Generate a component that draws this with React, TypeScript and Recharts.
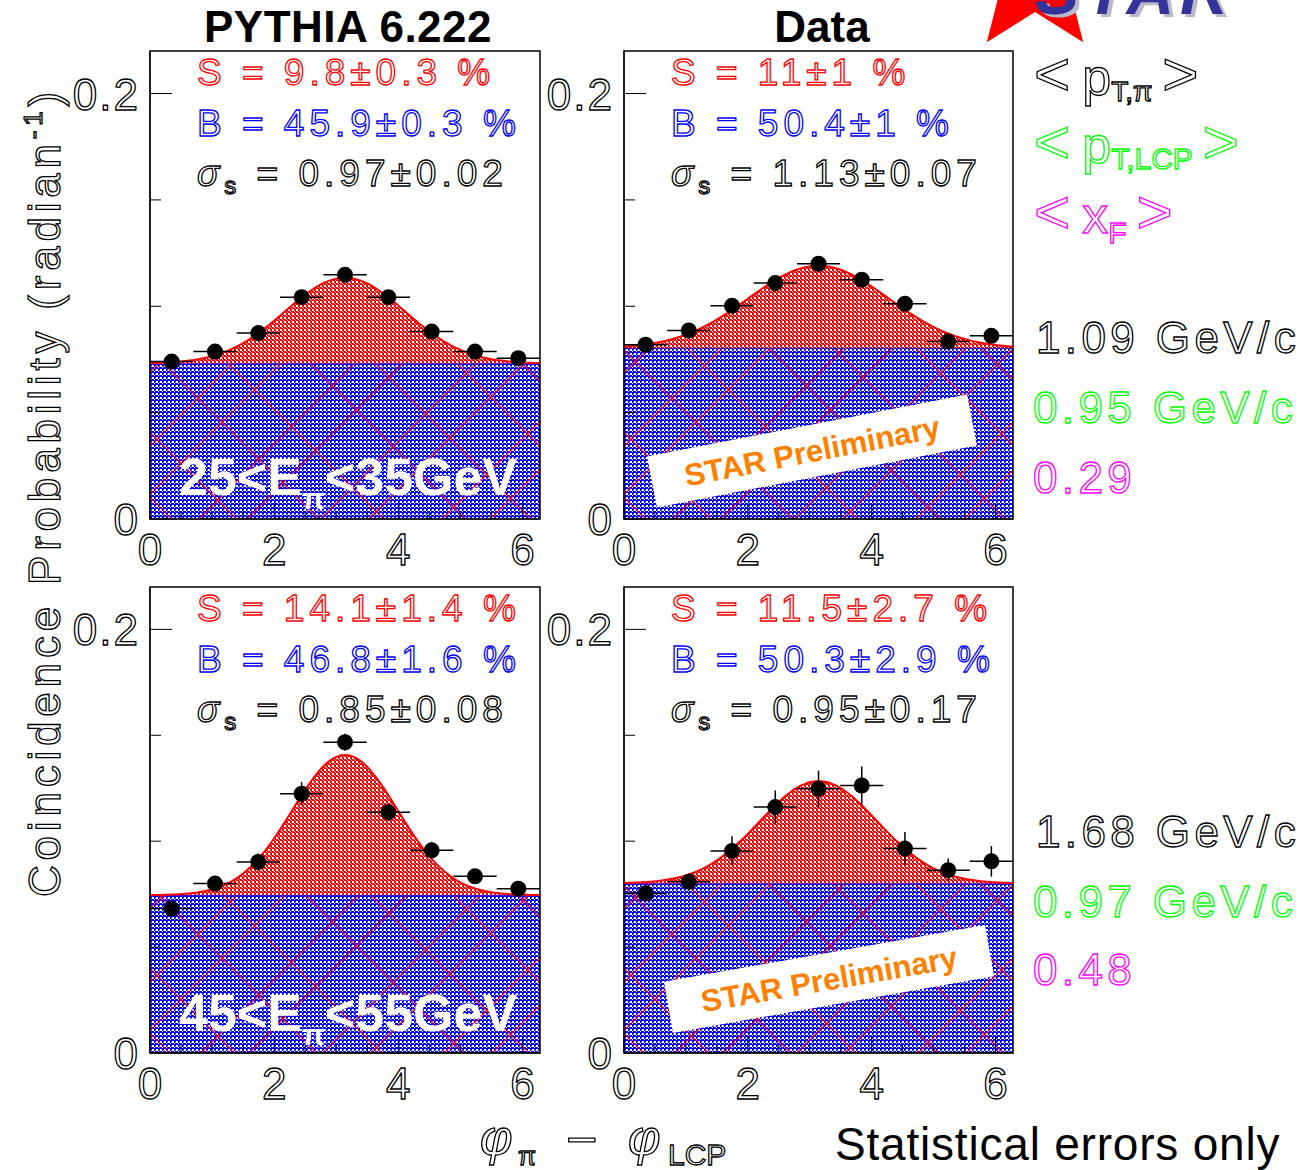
import React from 'react';
import { ComposedChart, Area, Line, Scatter, ErrorBar, XAxis, YAxis, ReferenceArea } from 'recharts';

const TWO_PI = 2 * Math.PI;

// nine azimuthal bins over 0..2pi
const binCenters = [0.349, 1.047, 1.745, 2.443, 3.142, 3.84, 4.538, 5.236, 5.934];
const binHalfWidth = 0.349;

// coincidence probability per bin: PYTHIA / data, low and high pion energy
const pythiaLowY = [0.074, 0.0787, 0.0874, 0.1043, 0.1148, 0.1043, 0.0881, 0.0787, 0.0756];
const pythiaLowErr = [0.0015, 0.0015, 0.0015, 0.0015, 0.0015, 0.0015, 0.0015, 0.0015, 0.0015];
const dataLowY = [0.0819, 0.0886, 0.1002, 0.1109, 0.12, 0.1125, 0.1012, 0.0834, 0.0861];
const dataLowErr = [0.0025, 0.0025, 0.0025, 0.0025, 0.0025, 0.0025, 0.0025, 0.0025, 0.0025];
const pythiaHighY = [0.0682, 0.08, 0.0902, 0.1224, 0.1467, 0.1137, 0.0957, 0.0834, 0.0776];
const pythiaHighErr = [0.003, 0.003, 0.004, 0.0055, 0.004, 0.004, 0.004, 0.003, 0.003];
const dataHighY = [0.0753, 0.0808, 0.0954, 0.1161, 0.1247, 0.1263, 0.0965, 0.0863, 0.0905];
const dataHighErr = [0.003, 0.004, 0.0069, 0.0078, 0.0086, 0.009, 0.0078, 0.0055, 0.0072];

// gaussian + flat background fit results
const signalPct = [9.8, 11, 14.1, 11.5];
const signalErr = [0.3, 1, 1.4, 2.7];
const backgroundPct = [45.9, 50.4, 46.8, 50.3];
const backgroundErr = [0.3, 1, 1.6, 2.9];
const sigmaS = [0.97, 1.13, 0.85, 0.95];
const sigmaErr = [0.02, 0.07, 0.08, 0.17];

const xTicks = [0, 0.5, 1, 1.5, 2, 2.5, 3, 3.5, 4, 4.5, 5, 5.5, 6];
const yTicks = [0, 0.05, 0.1, 0.15, 0.2];

const columnTitles = ['PYTHIA 6.222', 'Data'];
const energyBins = [['25', '35'], ['45', '55']];
const meanPtPi = ['1.09 GeV/c', '1.68 GeV/c'];
const meanPtLcp = ['0.95 GeV/c', '0.97 GeV/c'];
const meanXf = ['0.29', '0.48'];

const pointY = [pythiaLowY, dataLowY, pythiaHighY, dataHighY];
const pointErr = [pythiaLowErr, dataLowErr, pythiaHighErr, dataHighErr];

// plot-area boxes in page pixels
const boxes = [
  { left: 150, top: 51, width: 390, height: 468 },
  { left: 624, top: 51, width: 389, height: 468 },
  { left: 150, top: 587, width: 390, height: 466 },
  { left: 624, top: 587, width: 389, height: 466 },
];
const ML = 90;
const MT = 2;
const MR = 4;
const MB = 60;

const FONT = '"Liberation Sans", Arial, sans-serif';
const hollow = (c: string) => ({ fill: '#fff', stroke: c, strokeWidth: 1.3 });

const curveX = Array.from({ length: 121 }, (_, i) => (i * TWO_PI) / 120);
const fitCurve = (k: number) => {
  const b = backgroundPct[k] / 100 / TWO_PI;
  const a = signalPct[k] / 100 / (sigmaS[k] * Math.sqrt(TWO_PI));
  return curveX.map((x) => ({
    x,
    b,
    y: b + a * Math.exp(-((x - Math.PI) ** 2) / (2 * sigmaS[k] ** 2)),
  }));
};

const XTick = (p: any) => {
  const v = p.payload.value;
  const len = v % 2 === 0 ? 16 : 8;
  return (
    <g>
      <line x1={p.x} x2={p.x} y1={p.y} y2={p.y - len} stroke="#000" />
      {v % 2 === 0 && (
        <text x={p.x} y={p.y + 46} textAnchor="middle" fontSize={44} fontFamily={FONT} {...hollow('#000')}>
          {v}
        </text>
      )}
    </g>
  );
};

const YTick = (p: any) => {
  const v = p.payload.value;
  const major = v === 0 || v === 0.2;
  return (
    <g>
      <line x1={p.x} x2={p.x + (major ? 22 : 11)} y1={p.y} y2={p.y} stroke="#000" />
      {major && (
        <text x={p.x - 10} y={p.y + 16} textAnchor="end" fontSize={44} letterSpacing={2} fontFamily={FONT} {...hollow('#000')}>
          {v === 0 ? '0' : '0.2'}
        </text>
      )}
    </g>
  );
};

const dot = (p: any) => <circle cx={p.cx} cy={p.cy} r={8} fill="#000" />;

const Panel = ({ k }: { k: number }) => {
  const box = boxes[k];
  const pts = binCenters.map((x, i) => ({ x, y: pointY[k][i], ex: binHalfWidth, ey: pointErr[k][i] }));
  const fit = fitCurve(k);
  return (
    <div style={{ position: 'absolute', left: box.left - ML, top: box.top - MT }}>
      <ComposedChart
        width={ML + box.width + MR}
        height={MT + box.height + MB}
        margin={{ top: MT, right: MR, left: 0, bottom: 0 }}
      >
        <XAxis
          dataKey="x"
          type="number"
          domain={[0, TWO_PI]}
          ticks={xTicks}
          interval={0}
          allowDataOverflow
          height={MB}
          tickSize={0}
          tickMargin={0}
          tick={(p: any) => <XTick {...p} />}
          stroke="#000"
        />
        <YAxis
          type="number"
          domain={[0, 0.22]}
          ticks={yTicks}
          interval={0}
          allowDataOverflow
          width={ML}
          tickSize={0}
          tickMargin={0}
          tick={(p: any) => <YTick {...p} />}
          stroke="#000"
        />
        <Area data={fit} dataKey="b" type="linear" fill="url(#bgFill)" fillOpacity={1} stroke="#0000ff" strokeWidth={1.5} isAnimationActive={false} />
        <Area data={fit} dataKey={(d: any) => [d.b, d.y]} type="monotone" fill="url(#sigFill)" fillOpacity={1} stroke="none" isAnimationActive={false} />
        <Line data={fit} dataKey="y" type="monotone" stroke="#ff0000" strokeWidth={2} dot={false} isAnimationActive={false} />
        <Scatter data={pts} dataKey="y" shape={dot} isAnimationActive={false}>
          <ErrorBar dataKey="ex" direction="x" width={0} stroke="#000" strokeWidth={1.5} />
          <ErrorBar dataKey="ey" direction="y" width={0} stroke="#000" strokeWidth={1.5} />
        </Scatter>
        <ReferenceArea x1={0} x2={TWO_PI} y1={0} y2={0.22} fill="none" stroke="#000" strokeWidth={1.5} ifOverflow="visible" />
      </ComposedChart>
    </div>
  );
};

const starPoints = () => {
  const cx = 1035;
  const cy = -24;
  const pts: string[] = [];
  for (let i = 0; i < 10; i++) {
    const ang = -Math.PI / 2 + (i * Math.PI) / 5;
    const r = i % 2 === 0 ? 82 : 36;
    pts.push(`${cx + r * Math.cos(ang)},${cy + r * Math.sin(ang)}`);
  }
  return pts.join(' ');
};

const Overlay = () => (
  <svg width={1303} height={1170} style={{ position: 'absolute', left: 0, top: 0, pointerEvents: 'none' }} fontFamily={FONT}>
    {/* logo */}
    <polygon points={starPoints()} fill="#ff0000" />
    <text x={1039} y={17} fontSize={66} fontWeight="bold" fontStyle="italic" letterSpacing={6} fill="#b8b8c8">STAR</text>
    <text x={1035} y={14} fontSize={66} fontWeight="bold" fontStyle="italic" letterSpacing={6} fill="#333399">STAR</text>

    {/* column titles */}
    <text x={348} y={42} textAnchor="middle" fontSize={44} fontWeight="bold" letterSpacing={0.5} fill="#000">{columnTitles[0]}</text>
    <text x={822} y={42} textAnchor="middle" fontSize={44} fontWeight="bold" fill="#000">{columnTitles[1]}</text>

    {/* fit results */}
    {boxes.map((b, k) => (
      <g key={k} fontSize={37} letterSpacing={5}>
        <text x={b.left + 47} y={b.top + 34} {...hollow('#ff0000')}>
          {`S = ${signalPct[k]}±${signalErr[k]} %`}
        </text>
        <text x={b.left + 47} y={b.top + 85} {...hollow('#0000ff')}>
          {`B = ${backgroundPct[k]}±${backgroundErr[k]} %`}
        </text>
        <text x={b.left + 47} y={b.top + 135} {...hollow('#000')}>
          <tspan fontStyle="italic">σ</tspan>
          <tspan fontSize={24} dy={8}>s</tspan>
          <tspan dy={-8}>{` = ${sigmaS[k].toFixed(2)}±${sigmaErr[k].toFixed(2)}`}</tspan>
        </text>
      </g>
    ))}

    {/* energy bins */}
    {[0, 2].map((k, j) => (
      <text key={k} x={boxes[k].left + 29} y={boxes[k].top + 444} fontSize={52} fontWeight="bold" fill="#fff">
        {`${energyBins[j][0]}<E`}
        <tspan fontSize={30} dy={14}>π</tspan>
        <tspan dy={-14}>{`<${energyBins[j][1]}GeV`}</tspan>
      </text>
    ))}

    {/* preliminary stamps */}
    {[
      { cx: 812, cy: 451, a: -11 },
      { cx: 829, cy: 979, a: -10 },
    ].map((s, i) => (
      <g key={i} transform={`translate(${s.cx},${s.cy}) rotate(${s.a})`}>
        <rect x={-163} y={-26} width={326} height={52} fill="#fff" />
        <text x={0} y={11} textAnchor="middle" fontSize={31} fontWeight="bold" fill="#ff8000">STAR Preliminary</text>
      </g>
    ))}

    {/* legend of mean values */}
    <g fontSize={52}>
      <text x={1034} y={95} {...hollow('#000')}>
        <tspan fontSize={62}>{'<'}</tspan>
        <tspan dx={12}>p</tspan>
        <tspan fontSize={28} dy={6}>T,π</tspan>
        <tspan fontSize={62} dx={10} dy={-6}>{'>'}</tspan>
      </text>
      <text x={1034} y={163} {...hollow('#00ff00')}>
        <tspan fontSize={62}>{'<'}</tspan>
        <tspan dx={12}>p</tspan>
        <tspan fontSize={30} dy={6}>T,LCP</tspan>
        <tspan fontSize={62} dx={10} dy={-6}>{'>'}</tspan>
      </text>
      <text x={1034} y={233} {...hollow('#ff00ff')}>
        <tspan fontSize={62}>{'<'}</tspan>
        <tspan dx={12}>x</tspan>
        <tspan fontSize={30} dy={10}>F</tspan>
        <tspan fontSize={62} dx={10} dy={-10}>{'>'}</tspan>
      </text>
    </g>
    <g fontSize={44} letterSpacing={4.4}>
      <text x={1036} y={353} {...hollow('#000')}>{meanPtPi[0]}</text>
      <text x={1033} y={423} {...hollow('#00ff00')}>{meanPtLcp[0]}</text>
      <text x={1033} y={493} {...hollow('#ff00ff')}>{meanXf[0]}</text>
      <text x={1036} y={847} {...hollow('#000')}>{meanPtPi[1]}</text>
      <text x={1033} y={917} {...hollow('#00ff00')}>{meanPtLcp[1]}</text>
      <text x={1033} y={985} {...hollow('#ff00ff')}>{meanXf[1]}</text>
    </g>

    {/* axis titles */}
    <text transform="translate(60,492) rotate(-90)" textAnchor="middle" fontSize={44} letterSpacing={4.8} {...hollow('#000')}>
      Coincidence Probability (radian
      <tspan fontSize={26} dy={-18}>-1</tspan>
      <tspan dy={18}>)</tspan>
    </text>
    <g {...hollow('#000')}>
      <text x={480} y={1155} fontSize={50} fontStyle="italic">φ</text>
      <text x={518} y={1165} fontSize={26}>π</text>
      <text x={566} y={1158} fontSize={54}>−</text>
      <text x={628} y={1155} fontSize={50} fontStyle="italic">φ</text>
      <text x={668} y={1165} fontSize={30}>LCP</text>
    </g>
    <text x={835} y={1160} fontSize={46} letterSpacing={0.8} fill="#000">Statistical errors only</text>
  </svg>
);

const Patterns = () => (
  <svg width={0} height={0} style={{ position: 'absolute' }}>
    <defs>
      <pattern id="blueDots" width={4} height={4} patternUnits="userSpaceOnUse">
        <rect width={4} height={4} fill="#0000ff" />
        <rect x={0} y={0} width={2} height={2} fill="#ffffff" />
        <rect x={2} y={2} width={1} height={1} fill="#ffffff" />
        <rect x={3} y={1} width={1} height={1} fill="#9a9aff" />
      </pattern>
      <pattern id="crossA" width={86} height={8} patternUnits="userSpaceOnUse" patternTransform="rotate(45)">
        <rect x={0} width={1.2} height={8} fill="#ff0000" />
        <rect x={34} width={1.2} height={8} fill="#ff0000" />
      </pattern>
      <pattern id="crossB" width={104} height={8} patternUnits="userSpaceOnUse" patternTransform="rotate(-45)">
        <rect x={0} width={1.2} height={8} fill="#ff0000" />
        <rect x={58} width={1.2} height={8} fill="#ff0000" />
      </pattern>
      <pattern id="bgFill" width={2000} height={2000} patternUnits="userSpaceOnUse">
        <rect width={2000} height={2000} fill="url(#blueDots)" />
        <rect width={2000} height={2000} fill="url(#crossA)" />
        <rect width={2000} height={2000} fill="url(#crossB)" />
      </pattern>
      <pattern id="sigFill" width={4} height={4} patternUnits="userSpaceOnUse">
        <rect width={4} height={4} fill="#ff0000" />
        <rect x={0} y={0} width={2} height={2} fill="#ffffff" />
        <rect x={2} y={2} width={1} height={1} fill="#ffffff" />
        <rect x={3} y={3} width={1} height={1} fill="#ffaaaa" />
      </pattern>
    </defs>
  </svg>
);

export default function App() {
  return (
    <div style={{ position: 'absolute', left: 0, top: 0, width: 1303, height: 1170, background: '#fff', overflow: 'hidden' }}>
      <Patterns />
      {boxes.map((_, k) => (
        <Panel key={k} k={k} />
      ))}
      <Overlay />
    </div>
  );
}
